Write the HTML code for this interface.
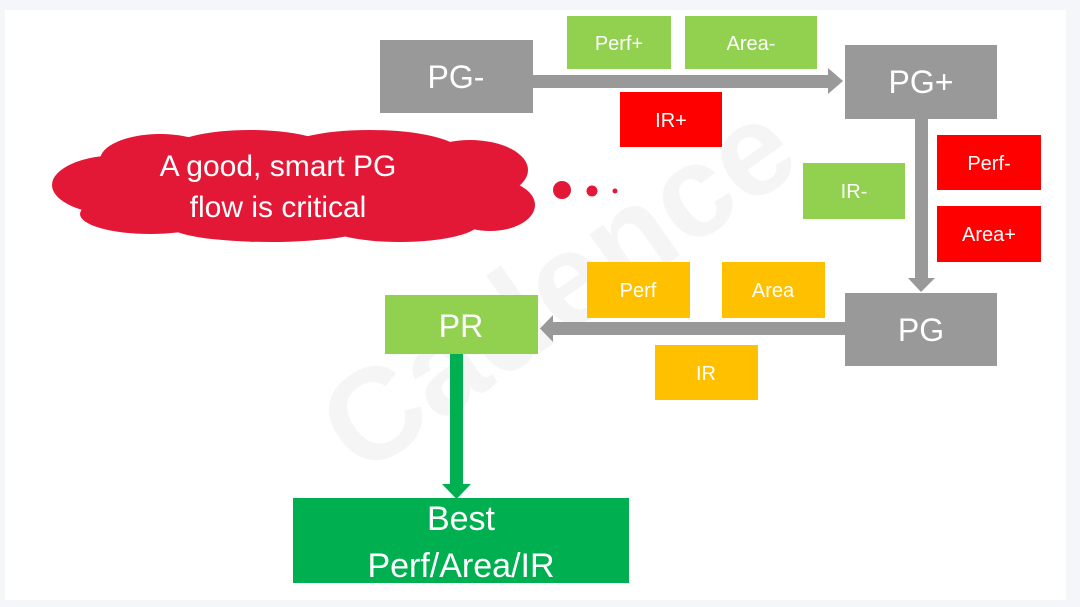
<!DOCTYPE html>
<html><head><meta charset="utf-8"><style>
html,body{margin:0;padding:0;background:#f4f6f9;}
svg{display:block;font-family:"Liberation Sans",Arial,sans-serif;}
</style></head><body>
<svg width="1080" height="607" viewBox="0 0 1080 607" xmlns="http://www.w3.org/2000/svg">
<rect x="0" y="0" width="1080" height="607" fill="#f4f6f9"/>
<rect x="5" y="10" width="1061" height="590" fill="#ffffff"/>
<text x="560" y="330" font-size="130" font-weight="bold" fill="#000" fill-opacity="0.04" transform="rotate(-35 560 290)" text-anchor="middle">Cadence</text>

<!-- cloud -->
<g fill="#e31837">
<ellipse cx="295" cy="186" rx="220" ry="46"/>
<ellipse cx="120" cy="185" rx="68" ry="30"/>
<ellipse cx="160" cy="160" rx="60" ry="26"/>
<ellipse cx="250" cy="150" rx="80" ry="20"/>
<ellipse cx="370" cy="152" rx="90" ry="22"/>
<ellipse cx="470" cy="170" rx="58" ry="30"/>
<ellipse cx="490" cy="205" rx="45" ry="26"/>
<ellipse cx="400" cy="222" rx="80" ry="20"/>
<ellipse cx="270" cy="226" rx="100" ry="16"/>
<ellipse cx="150" cy="214" rx="70" ry="20"/>
<circle cx="562" cy="190" r="9"/>
<circle cx="592" cy="191" r="5.5"/>
<circle cx="615" cy="191" r="2.5"/>
</g>
<text x="278" y="176" font-size="30" fill="#fff" text-anchor="middle">A good, smart PG</text>
<text x="278" y="217" font-size="30" fill="#fff" text-anchor="middle">flow is critical</text>

<!-- arrows -->
<g fill="#999999">
<rect x="530" y="75" width="300" height="13"/>
<polygon points="828,68 843,81 828,94"/>
<rect x="915" y="115" width="13" height="165"/>
<polygon points="908,278 935,278 921,292"/>
<rect x="552" y="322" width="296" height="13"/>
<polygon points="553,315 540,328.5 553,342"/>
</g>
<rect x="450" y="350" width="13" height="135" fill="#00b050"/>
<polygon points="442,484 471,484 456.5,499" fill="#00b050"/>

<!-- gray boxes -->
<g fill="#999999">
<rect x="380" y="40" width="153" height="73"/>
<rect x="845" y="45" width="152" height="74"/>
<rect x="845" y="293" width="152" height="73"/>
</g>
<g fill="#fff" font-size="32" text-anchor="middle">
<text x="456" y="88">PG-</text>
<text x="921" y="93">PG+</text>
<text x="921" y="341">PG</text>
</g>

<!-- green small -->
<g fill="#92d050">
<rect x="567" y="16" width="104" height="53"/>
<rect x="685" y="16" width="132" height="53"/>
<rect x="803" y="163" width="102" height="56"/>
<rect x="385" y="295" width="153" height="59"/>
</g>
<!-- red small -->
<g fill="#ff0000">
<rect x="620" y="92" width="102" height="55"/>
<rect x="937" y="135" width="104" height="55"/>
<rect x="937" y="206" width="104" height="56"/>
</g>
<!-- orange -->
<g fill="#ffc000">
<rect x="587" y="262" width="103" height="56"/>
<rect x="722" y="262" width="103" height="56"/>
<rect x="655" y="345" width="103" height="55"/>
</g>
<g fill="#fff" font-size="20" text-anchor="middle">
<text x="619" y="50">Perf+</text>
<text x="751" y="50">Area-</text>
<text x="671" y="127">IR+</text>
<text x="854" y="198">IR-</text>
<text x="989" y="170">Perf-</text>
<text x="989" y="241">Area+</text>
<text x="638" y="297">Perf</text>
<text x="773" y="297">Area</text>
<text x="706" y="380">IR</text>
</g>
<text x="461" y="337" fill="#fff" font-size="32" text-anchor="middle">PR</text>

<rect x="293" y="498" width="336" height="85" fill="#00b050"/>
<text x="461" y="530" fill="#fff" font-size="34" text-anchor="middle">Best</text>
<text x="461" y="577" fill="#fff" font-size="34" text-anchor="middle">Perf/Area/IR</text>
</svg>
</body></html>
